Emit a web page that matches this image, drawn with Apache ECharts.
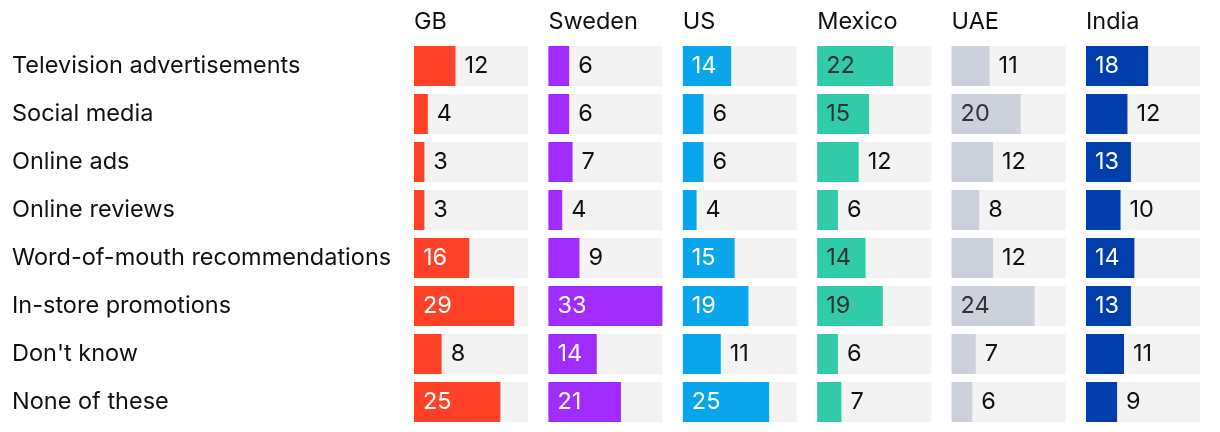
<!DOCTYPE html>
<html><head><meta charset="utf-8">
<script src="https://cdn.jsdelivr.net/npm/echarts@6/dist/echarts.min.js"></script>
<style>html,body{margin:0;padding:0;background:#fff}#c{width:1220px;height:432px}</style>
</head><body><div id="c"></div>
<script>
const categories = ["Television advertisements","Social media","Online ads","Online reviews","Word-of-mouth recommendations","In-store promotions","Don't know","None of these"];
const countries = ["GB","Sweden","US","Mexico","UAE","India"];
const gb = [12,4,3,3,16,29,8,25];
const sweden = [6,6,7,4,9,33,14,21];
const us = [14,6,6,4,15,19,11,25];
const mexico = [22,15,12,6,14,19,6,7];
const uae = [11,20,12,8,12,24,7,6];
const india = [18,12,13,10,14,13,11,9];
const values = [gb, sweden, us, mexico, uae, india];
const colors = ["#ff4128","#a12cff","#09a6ec","#32cba9","#cdd1dc","#003eab"];
const insideText = ["#ffffff","#ffffff","#ffffff","#333333","#333333","#ffffff"];
const FONT = "Inter";
const FS = 23.5;
const lefts = [414, 548.4, 682.8, 817.2, 951.6, 1086];
const W = 114;
const grids = [], xAxes = [], yAxes = [], series = [], graphics = [];
countries.forEach((c, i) => {
  grids.push({left: lefts[i], top: 42, width: W, height: 384});
  xAxes.push({gridIndex: i, type: 'value', min: 0, max: 33, show: false});
  yAxes.push({gridIndex: i, type: 'category', data: categories, inverse: true,
    axisLine: {show: false}, axisTick: {show: false}, splitLine: {show: false},
    axisLabel: i === 0 ? {show: true, align: 'left', margin: 402, color: '#111', fontFamily: FONT, fontSize: FS} : {show: false}});
  series.push({type: 'bar', xAxisIndex: i, yAxisIndex: i, barWidth: 40,
    showBackground: true, backgroundStyle: {color: '#f3f3f3'},
    itemStyle: {color: colors[i]},
    data: values[i].map(v => ({value: v, label: v >= 13 ?
      {show: true, position: 'insideLeft', distance: 9, color: insideText[i], fontFamily: FONT, fontSize: FS} :
      {show: true, position: 'right', distance: 9, color: '#111', fontFamily: FONT, fontSize: FS}})),
    animation: false});
  graphics.push({type: 'text', x: lefts[i], y: 22, style: {text: c, fill: '#111', fontFamily: FONT, fontSize: FS, verticalAlign: 'middle'}});
});
const chart = echarts.init(document.getElementById('c'), null, {renderer: 'canvas'});
chart.setOption({animation: false, grid: grids, xAxis: xAxes, yAxis: yAxes, series: series, graphic: graphics});
</script></body></html>
